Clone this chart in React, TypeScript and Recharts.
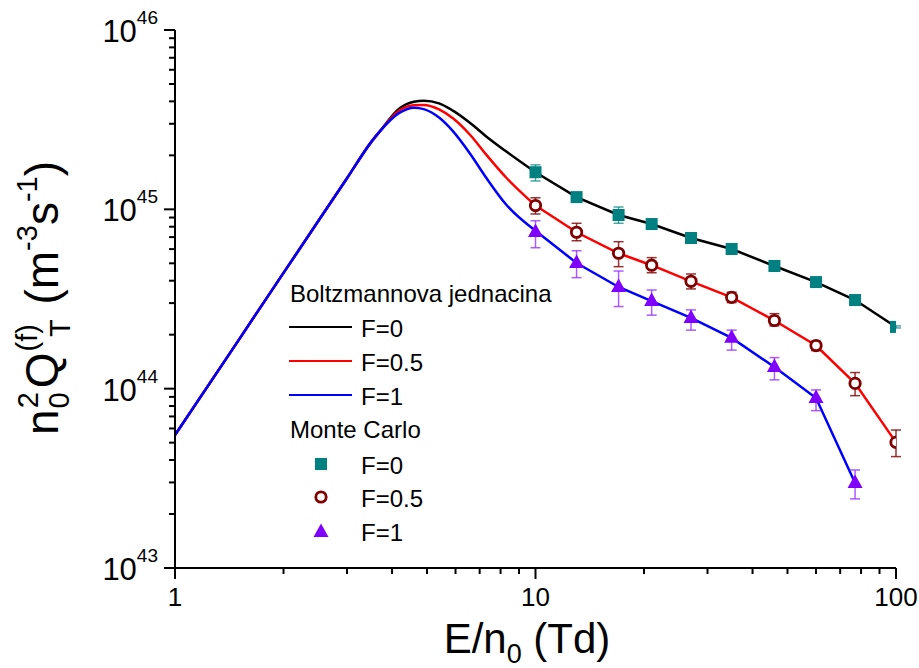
import {
  ComposedChart,
  ErrorBar,
  Legend,
  Line,
  Scatter,
  XAxis,
  YAxis,
} from "recharts";

const FONT = '"Liberation Sans", Arial, sans-serif';

// Boltzmann equation curves, sampled on a common E/n0 grid (Td)
const CURVE_E = [
  1, 1.5, 2, 2.5, 3, 3.5, 3.7, 4.2, 4.6, 4.9, 5.4, 5.9, 6.6, 7.3, 8.3, 10, 13, 17, 21, 27, 35, 46, 60, 77, 100,
];
const BE_F0 = [
  5.52e43, 1.86e44, 4.42e44, 8.63e44, 1.49e45, 2.37e45, 2.72e45, 3.66e45, 3.98e45, 4.03e45, 3.9e45, 3.55e45,
  3.02e45, 2.55e45, 2.1e45, 1.61e45, 1.17e45, 9.3e44, 8.28e44, 6.92e44, 6.01e44, 4.83e44, 3.93e44, 3.12e44,
  2.21e44,
];
const BE_F05 = [
  5.52e43, 1.86e44, 4.42e44, 8.63e44, 1.49e45, 2.37e45, 2.72e45, 3.57e45, 3.81e45, 3.82e45, 3.61e45, 3.22e45,
  2.59e45, 2.02e45, 1.5e45, 1.05e45, 7.45e44, 5.69e44, 4.88e44, 3.97e44, 3.23e44, 2.4e44, 1.74e44, 1.07e44,
  5.02e43,
];
const BE_F1 = [
  5.52e43, 1.86e44, 4.42e44, 8.63e44, 1.49e45, 2.37e45, 2.72e45, 3.46e45, 3.69e45, 3.62e45, 3.25e45, 2.73e45,
  2.03e45, 1.5e45, 1.06e45, 7.6e44, 5.02e44, 3.69e44, 3.08e44, 2.48e44, 1.92e44, 1.32e44, 8.87e43, 2.98e43,
];
// index of E = 10 Td: smooth curve before it, straight segments after
const SPLIT = 15;

// Monte Carlo results with error bounds
const MC_E = [10, 13, 17, 21, 27, 35, 46, 60, 77, 100];
const MC_F0 = [1.61e45, 1.17e45, 9.3e44, 8.28e44, 6.92e44, 6.01e44, 4.83e44, 3.93e44, 3.12e44, 2.21e44];
const MC_F0_LO = [1.44e45, 1.14e45, 8.36e44, 8.1e44, 6.8e44, 5.9e44, 4.75e44, 3.87e44, 3.07e44, 2.18e44];
const MC_F0_HI = [1.77e45, 1.2e45, 1.03e45, 8.45e44, 7.05e44, 6.12e44, 4.9e44, 3.99e44, 3.17e44, 2.24e44];
const MC_F05 = [1.05e45, 7.45e44, 5.69e44, 4.88e44, 3.97e44, 3.23e44, 2.4e44, 1.74e44, 1.07e44, 5.02e43];
const MC_F05_LO = [9.42e44, 6.68e44, 4.79e44, 4.43e44, 3.6e44, 3.02e44, 2.24e44, 1.63e44, 9.14e43, 4.18e43];
const MC_F05_HI = [1.16e45, 8.36e44, 6.6e44, 5.38e44, 4.36e44, 3.45e44, 2.62e44, 1.84e44, 1.23e44, 5.88e43];
const MC_F1 = [7.48e44, 5.02e44, 3.69e44, 3.08e44, 2.48e44, 1.92e44, 1.32e44, 8.87e43, 2.98e43];
const MC_F1_LO = [6.11e44, 4.16e44, 2.87e44, 2.57e44, 2.12e44, 1.64e44, 1.12e44, 7.54e43, 2.43e43];
const MC_F1_HI = [8.64e44, 5.88e44, 4.53e44, 3.55e44, 2.75e44, 2.12e44, 1.49e44, 9.84e43, 3.52e43];

// axes
const X_MAJOR = [1, 10, 100];
const Y_MAJOR = [1e43, 1e44, 1e45, 1e46];
const MANTISSA = [2, 3, 4, 5, 6, 7, 8, 9];
const X_TICKS = [...X_MAJOR, ...[1, 10].flatMap((d) => MANTISSA.map((m) => m * d))];
const Y_TICKS = [...Y_MAJOR, ...[1e43, 1e44, 1e45].flatMap((d) => MANTISSA.map((m) => m * d))];

const curve = (vals: number[]) => vals.map((v, i) => ({ e: CURVE_E[i], v }));
const mc = (vals: number[], lo: number[], hi: number[]) =>
  vals.map((v, i) => ({ e: MC_E[i], v, err: [v - lo[i], hi[i] - v] }));

const curves = [
  { data: curve(BE_F0), color: "#000000" },
  { data: curve(BE_F05), color: "#ff0000" },
  { data: curve(BE_F1), color: "#0000ff" },
];
const mcF0 = mc(MC_F0, MC_F0_LO, MC_F0_HI);
const mcF05 = mc(MC_F05, MC_F05_LO, MC_F05_HI);
const mcF1 = mc(MC_F1, MC_F1_LO, MC_F1_HI);

const TEAL = "#008080";
const MAROON = "#800000";
const VIOLET = "#8000ff";
const SQ = 12;

function Square({ cx, cy }: any) {
  return <rect x={cx - SQ / 2} y={cy - SQ / 2} width={SQ} height={SQ} fill={TEAL} />;
}
function Ring({ cx, cy }: any) {
  return <circle cx={cx} cy={cy} r={5.2} fill="#fff" stroke={MAROON} strokeWidth={2.8} />;
}
function Tri({ cx, cy }: any) {
  return <polygon points={`${cx},${cy - 8.5} ${cx - 7.5},${cy + 5} ${cx + 7.5},${cy + 5}`} fill={VIOLET} />;
}
const NoShape = () => null;

function XTick({ x, y, payload }: any) {
  const major = X_MAJOR.includes(payload.value);
  return (
    <g>
      <line x1={x} y1={y} x2={x} y2={y + (major ? 11 : 6)} stroke="#000" strokeWidth={2} />
      {major && (
        <text x={x} y={y + 38} textAnchor="middle" fontSize={26} fill="#000" fontFamily={FONT}>
          {payload.value}
        </text>
      )}
    </g>
  );
}

function YTick({ x, y, payload }: any) {
  const major = Y_MAJOR.includes(payload.value);
  return (
    <g>
      <line x1={x} y1={y} x2={x - (major ? 11 : 6)} y2={y} stroke="#000" strokeWidth={2} />
      {major && (
        <text x={x - 17} y={y + 12} textAnchor="end" fontSize={31} fill="#000" fontFamily={FONT}>
          10
          <tspan fontSize={19} dy={-18}>
            {Math.round(Math.log10(payload.value))}
          </tspan>
        </text>
      )}
    </g>
  );
}

function XTitle({ viewBox }: any) {
  return (
    <text x={viewBox.x + 352} y={viewBox.y + 85} textAnchor="middle" fontSize={42} fill="#000" fontFamily={FONT}>
      E/n
      <tspan fontSize={27} dy={10}>0</tspan>
      <tspan dy={-10}> (Td)</tspan>
    </text>
  );
}

function YTitle({ viewBox }: any) {
  const cx = 58;
  const cy = viewBox.y + 268;
  return (
    <text
      x={cx}
      y={cy}
      transform={`rotate(-90, ${cx}, ${cy})`}
      textAnchor="middle"
      fontSize={46}
      fill="#000"
      fontFamily={FONT}
    >
      n
      <tspan fontSize={29} dx={1} dy={11}>0</tspan>
      <tspan fontSize={29} dx={-16} dy={-31}>2</tspan>
      <tspan dx={4} dy={20}>Q</tspan>
      <tspan fontSize={29} dx={1} dy={-21}>(f)</tspan>
      <tspan fontSize={29} dx={-13} dy={33}>T</tspan>
      <tspan dx={2} dy={-12}> (m</tspan>
      <tspan fontSize={29} dy={-21}>-3</tspan>
      <tspan dy={21}>s</tspan>
      <tspan fontSize={29} dy={-21}>-1</tspan>
      <tspan dy={21}>)</tspan>
    </text>
  );
}

function LegendBox() {
  const t = { fontSize: 24, fill: "#000", fontFamily: FONT };
  const rows = [
    { label: "F=0", color: "#000" },
    { label: "F=0.5", color: "#ff0000" },
    { label: "F=1", color: "#0000ff" },
  ];
  return (
    <svg width={300} height={290} style={{ display: "block" }}>
      <text x={10} y={32} {...t}>Boltzmannova jednacina</text>
      {rows.map((r, i) => (
        <g key={r.label}>
          <line x1={9} x2={72} y1={57 + i * 34} y2={57 + i * 34} stroke={r.color} strokeWidth={2} />
          <text x={81} y={67 + i * 34} {...t}>{r.label}</text>
        </g>
      ))}
      <text x={10} y={168} {...t}>Monte Carlo</text>
      <Square cx={41} cy={194} />
      <text x={81} y={204} {...t}>F=0</text>
      <Ring cx={41} cy={227} />
      <text x={81} y={237} {...t}>F=0.5</text>
      <Tri cx={41} cy={262} />
      <text x={81} y={271} {...t}>F=1</text>
    </svg>
  );
}

export default function App() {
  return (
    <div style={{ position: "absolute", left: 0, top: 0, background: "#fff" }}>
      <ComposedChart width={919} height={668} margin={{ top: 30, right: 23, left: 0, bottom: 0 }} style={{ fontFamily: FONT }}>
        <XAxis
          dataKey="e"
          type="number"
          scale="log"
          domain={[1, 100]}
          ticks={X_TICKS}
          interval={0}
          allowDataOverflow
          height={100}
          tickSize={0}
          tickMargin={0}
          tickLine={false}
          tick={<XTick />}
          axisLine={{ stroke: "#000", strokeWidth: 2 }}
          label={<XTitle />}
        />
        <YAxis
          dataKey="v"
          type="number"
          scale="log"
          domain={[1e43, 1e46]}
          ticks={Y_TICKS}
          interval={0}
          allowDataOverflow
          width={175}
          tickSize={0}
          tickMargin={0}
          tickLine={false}
          tick={<YTick />}
          axisLine={{ stroke: "#000", strokeWidth: 2 }}
          label={<YTitle />}
        />
        <Legend
          layout="vertical"
          align="center"
          verticalAlign="middle"
          content={() => <LegendBox />}
          wrapperStyle={{ left: 280, top: 270, width: 300, height: 290 }}
        />
        {curves.map((c) => (
          <Line
            key={`s${c.color}`}
            data={c.data.slice(0, SPLIT + 1)}
            dataKey="v"
            type="monotone"
            stroke={c.color}
            strokeWidth={2.5}
            dot={false}
            isAnimationActive={false}
          />
        ))}
        {curves.map((c) => (
          <Line
            key={`t${c.color}`}
            data={c.data.slice(SPLIT)}
            dataKey="v"
            type="linear"
            stroke={c.color}
            strokeWidth={2.5}
            dot={false}
            isAnimationActive={false}
          />
        ))}
        <Scatter data={mcF0} dataKey="v" shape={NoShape} isAnimationActive={false}>
          <ErrorBar dataKey="err" direction="y" width={5} stroke={TEAL} strokeOpacity={0.7} strokeWidth={1.5} />
        </Scatter>
        <Scatter data={mcF05} dataKey="v" shape={NoShape} isAnimationActive={false}>
          <ErrorBar dataKey="err" direction="y" width={5} stroke={MAROON} strokeOpacity={0.8} strokeWidth={1.5} />
        </Scatter>
        <Scatter data={mcF1} dataKey="v" shape={NoShape} isAnimationActive={false}>
          <ErrorBar dataKey="err" direction="y" width={5} stroke="#9933ff" strokeOpacity={0.8} strokeWidth={1.5} />
        </Scatter>
        <Scatter data={mcF0} dataKey="v" shape={<Square />} isAnimationActive={false} />
        <Scatter data={mcF05} dataKey="v" shape={<Ring />} isAnimationActive={false} />
        <Scatter data={mcF1} dataKey="v" shape={<Tri />} isAnimationActive={false} />
      </ComposedChart>
    </div>
  );
}
